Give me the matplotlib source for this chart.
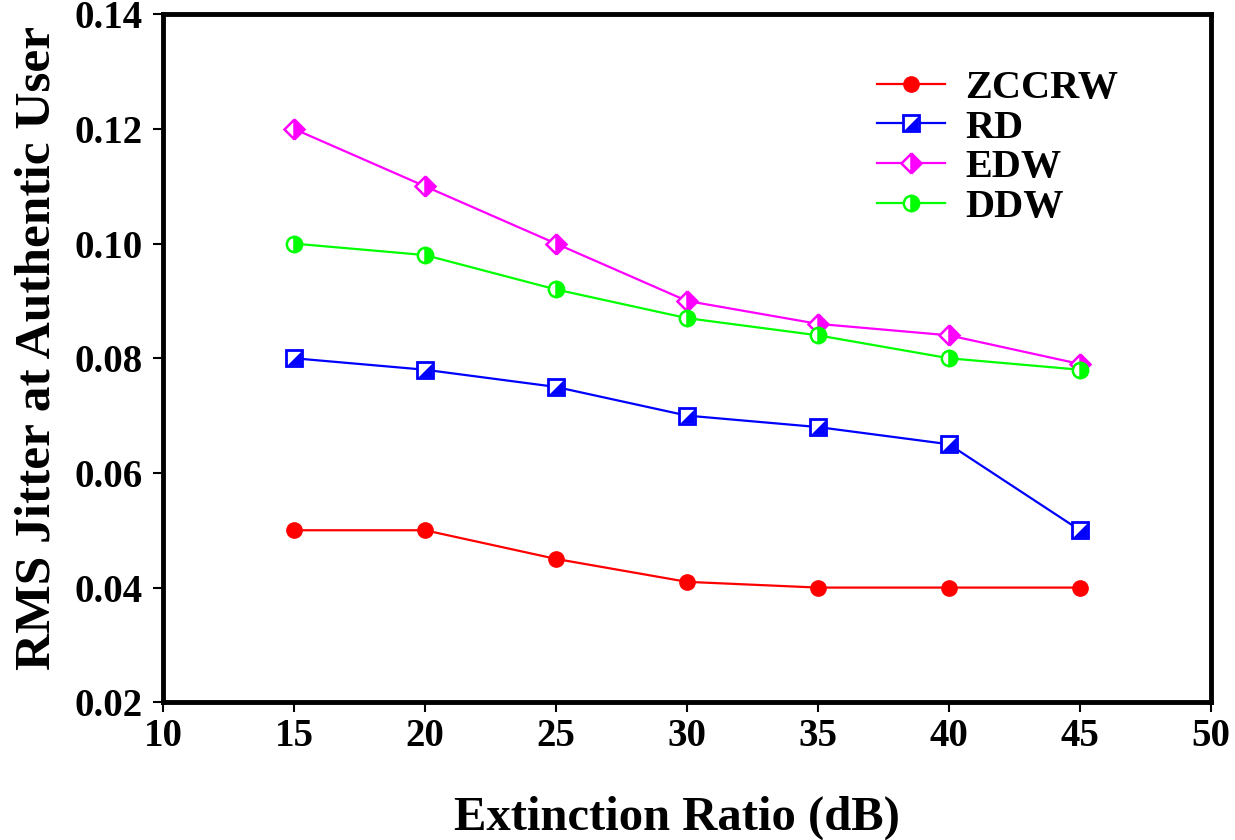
import matplotlib
matplotlib.use("Agg")
import matplotlib.pyplot as plt
from matplotlib.legend_handler import HandlerTuple

# Extinction ratio (dB) and RMS jitter per code family
extinction_db = [15, 20, 25, 30, 35, 40, 45]
zccrw = [0.050, 0.050, 0.045, 0.041, 0.040, 0.040, 0.040]
rd = [0.080, 0.078, 0.075, 0.070, 0.068, 0.065, 0.050]
edw = [0.120, 0.110, 0.100, 0.090, 0.086, 0.084, 0.079]
ddw = [0.100, 0.098, 0.092, 0.087, 0.084, 0.080, 0.078]

x_ticks = [10, 15, 20, 25, 30, 35, 40, 45, 50]
y_ticks = [0.02, 0.04, 0.06, 0.08, 0.10, 0.12, 0.14]

plt.rcParams['font.family'] = ['Liberation Serif', 'DejaVu Serif']
plt.rcParams['font.weight'] = 'bold'

fig = plt.figure(figsize=(12.35, 8.4), dpi=100)
ax = fig.add_axes([0.132, 0.164, 0.8485, 0.819])

ms = 11
lw = 1.6

# ZCCRW: filled circles
h1, = ax.plot(extinction_db, zccrw, color='#ff0000', lw=lw, marker='o',
              ms=ms, markerfacecolor='#ff0000', markeredgecolor='#ff0000')

# RD: open square with its lower-right triangle filled
h2a, = ax.plot(extinction_db, rd, color='#0000ff', lw=lw, marker='s',
               ms=ms, markerfacecolor='white', markeredgecolor='#0000ff',
               markeredgewidth=2)
tri = [(1, 1), (1, -1), (-1, -1), (1, 1)]
h2b, = ax.plot(extinction_db, rd, ls='none', marker=tri, ms=ms * 0.92,
               markerfacecolor='#0000ff', markeredgecolor='#0000ff',
               markeredgewidth=0)

# EDW: diamond, right half filled
h3, = ax.plot(extinction_db, edw, color='#ff00ff', lw=lw, marker='D',
              ms=ms * 0.95, fillstyle='right', markerfacecolor='#ff00ff',
              markerfacecoloralt='white', markeredgecolor='#ff00ff',
              markeredgewidth=1.8)

# DDW: circle, right half filled
h4, = ax.plot(extinction_db, ddw, color='#00ff00', lw=lw, marker='o',
              ms=ms, fillstyle='right', markerfacecolor='#00ff00',
              markerfacecoloralt='white', markeredgecolor='#00ff00',
              markeredgewidth=1.8)

ax.set_xlim(10, 50)
ax.set_ylim(0.02, 0.14)
ax.set_xticks(x_ticks)
ax.set_yticks(y_ticks)
ax.set_xticklabels([str(v) for v in x_ticks])
ax.set_yticklabels([f"{v:.2f}" for v in y_ticks])

for side in ['left', 'bottom', 'top', 'right']:
    ax.spines[side].set_linewidth(3.5)
    ax.spines[side].set_color('black')

ax.tick_params(axis='both', direction='out', length=7.5, width=1.5,
               labelsize=28)
ax.tick_params(axis='x', pad=4)
ax.tick_params(axis='y', pad=7)
for lab in ax.get_xticklabels() + ax.get_yticklabels():
    lab.set_fontweight('bold')

ax.set_xlabel('Extinction Ratio (dB)', fontsize=35, fontweight='bold',
              labelpad=29)
ax.set_ylabel('RMS Jitter at Authentic User', fontsize=37,
              fontweight='bold', labelpad=10)
ax.xaxis.label.set_x(0.49)
ax.yaxis.label.set_y(0.515)

leg = fig.legend([h1, (h2a, h2b), h3, h4], ['ZCCRW', 'RD', 'EDW', 'DDW'],
                 handler_map={tuple: HandlerTuple(ndivide=1)},
                 loc='upper left', bbox_to_anchor=(0.710, 0.917),
                 frameon=False, handlelength=1.7, handletextpad=0.5,
                 labelspacing=0.06, borderpad=0, borderaxespad=0,
                 prop={'weight': 'bold', 'size': 29})

fig.savefig('out.png', dpi=100, facecolor='white')
